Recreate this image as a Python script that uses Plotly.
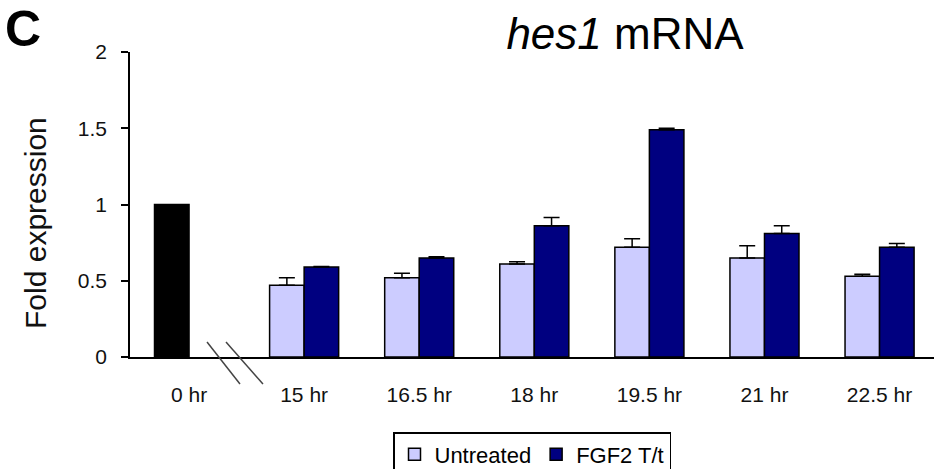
import plotly.graph_objects as go

# Time points (0 hr is the untreated baseline, plotted on its own before the axis break)
categories = ["0 hr", "15 hr", "16.5 hr", "18 hr", "19.5 hr", "21 hr", "22.5 hr"]

# Fold expression of hes1 mRNA (mean and upper error)
untreated = [1.0, 0.47, 0.52, 0.61, 0.72, 0.65, 0.53]
untreated_err = [0.0, 0.05, 0.03, 0.015, 0.055, 0.08, 0.012]
fgf2 = [None, 0.59, 0.65, 0.86, 1.49, 0.81, 0.72]
fgf2_err = [0.0, 0.004, 0.008, 0.055, 0.01, 0.05, 0.025]

y_ticks = [0, 0.5, 1, 1.5, 2]
y_tick_text = ["0", "0.5", "1", "1.5", "2"]

FONT = "Liberation Sans, Arial, Helvetica, sans-serif"
BAR_W = 0.3
pos = list(range(len(categories)))

fig = go.Figure()

# baseline bar at 0 hr (black), sits in the left slot of its group
fig.add_trace(go.Bar(
    x=pos[:1], y=untreated[:1], width=BAR_W, offset=-BAR_W,
    marker=dict(color="#000000", line=dict(color="#000000", width=1.5)),
    showlegend=False, hoverinfo="y",
))

fig.add_trace(go.Bar(
    name="Untreated",
    x=pos[1:], y=untreated[1:], width=BAR_W, offset=-BAR_W,
    marker=dict(color="#CCCCFF", line=dict(color="#000000", width=1.5)),
    error_y=dict(type="data", symmetric=False, array=untreated_err[1:],
                 arrayminus=[0] * (len(pos) - 1),
                 color="#000000", thickness=1.5, width=8),
))

fig.add_trace(go.Bar(
    name="FGF2 T/t",
    x=pos[1:], y=fgf2[1:], width=BAR_W, offset=0,
    marker=dict(color="#000080", line=dict(color="#000000", width=1.5)),
    error_y=dict(type="data", symmetric=False, array=fgf2_err[1:],
                 arrayminus=[0] * (len(pos) - 1),
                 color="#000000", thickness=1.5, width=8),
))

# axis-break marks between 0 hr and 15 hr
break_marks = [(0.0958, 0.049, 0.1368, -0.0885), (0.1194, 0.049, 0.1654, -0.0885)]
shapes = [
    dict(type="line", xref="paper", yref="paper", x0=a, y0=b, x1=c, y1=d,
         line=dict(color="#444444", width=1.5))
    for a, b, c, d in break_marks
]

fig.update_layout(
    width=934, height=469,
    margin=dict(l=130, r=0, t=52, b=112, autoexpand=False),
    paper_bgcolor="white", plot_bgcolor="white",
    barmode="overlay",
    font=dict(family=FONT, color="#111111"),
    title=dict(text="<i>hes1</i> mRNA", x=625 / 934, xanchor="center",
               y=1 - 34 / 469, yanchor="middle",
               font=dict(family=FONT, size=44, color="#000000")),
    xaxis=dict(
        range=[-0.513, 6.473], tickvals=pos, ticktext=categories,
        showline=True, linecolor="#000000", linewidth=1.5,
        ticks="", showgrid=False, zeroline=False,
        tickfont=dict(family=FONT, size=21, color="#111111"),
        ticklabelstandoff=18,
    ),
    yaxis=dict(
        range=[0, 2], tickvals=y_ticks, ticktext=y_tick_text,
        showline=True, linecolor="#000000", linewidth=1.5,
        ticks="outside", ticklen=7, tickwidth=1.5, tickcolor="#000000",
        showgrid=False, zeroline=False,
        tickfont=dict(family=FONT, size=21, color="#111111"),
        ticklabelstandoff=10,
    ),
    legend=dict(
        orientation="h", x=0.5, xanchor="center", y=-0.246, yanchor="top",
        bordercolor="#000000", borderwidth=1.5, bgcolor="white",
        font=dict(family=FONT, size=22, color="#000000"),
        itemwidth=30, traceorder="normal",
    ),
    shapes=shapes,
    annotations=[
        dict(text="<b>C</b>", xref="paper", yref="paper",
             x=(23 - 130) / 804, y=(357 - 29) / 305,
             xanchor="center", yanchor="middle", showarrow=False,
             font=dict(family=FONT, size=50, color="#000000")),
        dict(text="Fold expression", xref="paper", yref="paper",
             x=(35 - 130) / 804, y=(357 - 223) / 305, textangle=-90,
             xanchor="center", yanchor="middle", showarrow=False,
             font=dict(family=FONT, size=30, color="#111111")),
    ],
)

fig.write_html("out.html")
